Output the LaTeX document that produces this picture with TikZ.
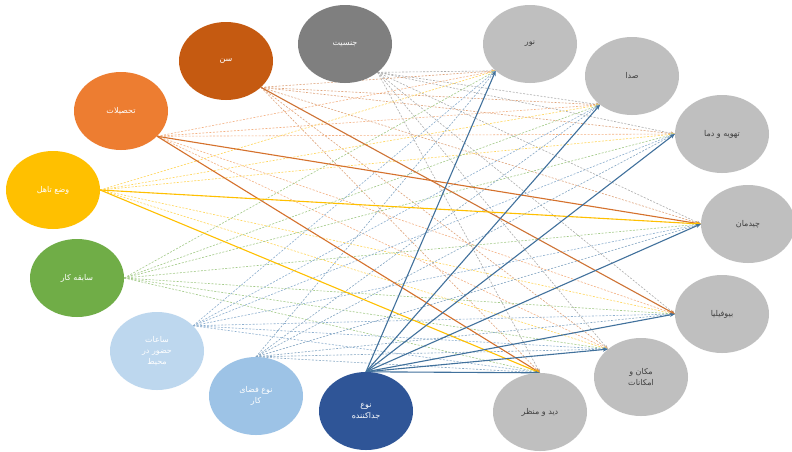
\documentclass[tikz,border=0pt]{standalone}
\usepackage{fontspec}
\newfontfamily\arabicfont[Script=Arabic]{DejaVu Sans}
\TeXXeTstate=1
\usetikzlibrary{shapes.geometric,arrows.meta,backgrounds}
\newcommand{\rtltext}[1]{\beginR #1\endR}
\definecolor{cGen}{HTML}{7F7F7F}
\definecolor{cAge}{HTML}{C55A11}
\definecolor{cEdu}{HTML}{ED7D31}
\definecolor{cMar}{HTML}{FFC000}
\definecolor{cExp}{HTML}{70AD47}
\definecolor{cHrs}{HTML}{BDD7EE}
\definecolor{cSpc}{HTML}{9DC3E6}
\definecolor{cPar}{HTML}{2F5597}
\definecolor{cOut}{HTML}{BFBFBF}
\definecolor{cLink}{HTML}{41719C}
\begin{document}
\begin{tikzpicture}[x=1pt,y=-1pt,
  bub/.style={ellipse, inner sep=0pt, minimum width=94pt, minimum height=78pt,
    font=\arabicfont\fontsize{8}{11}\selectfont, align=center},
  inb/.style={bub, fill=#1, text=white},
  outb/.style={bub, fill=cOut, text=black!75},
  dlink/.style={draw=#1, line width=0.6pt, dash pattern=on 2pt off 1.5pt,
    -{Stealth[length=4pt,width=3.5pt]}},
  slink/.style={draw=#1, line width=1.1pt, -{Stealth[length=5pt,width=4pt]}},
]
\useasboundingbox (0,0) rectangle (792,451);
% left (source) nodes
\node[inb=cGen] (gen) at (345,44) {\rtltext{جنسیت}};
\node[inb=cAge] (age) at (226,61) {\rtltext{سن}};
\node[inb=cEdu] (edu) at (121,111) {\rtltext{تحصیلات}};
\node[inb=cMar] (mar) at (53,190) {\rtltext{وضع تاهل}};
\node[inb=cExp] (exp) at (77,278) {\rtltext{سابقه کار}};
\node[inb=cHrs] (hrs) at (157,351) {\rtltext{ساعات}\\\rtltext{حضور در}\\\rtltext{محیط}};
\node[inb=cSpc] (spc) at (256,396) {\rtltext{نوع فضای}\\\rtltext{کار}};
\node[inb=cPar] (par) at (366,411) {\rtltext{نوع}\\\rtltext{جداکننده}};
% right (target) nodes
\node[outb] (nur) at (530,44) {\rtltext{نور}};
\node[outb] (sda) at (632,76) {\rtltext{صدا}};
\node[outb] (tah) at (722,134) {\rtltext{تهویه و دما}};
\node[outb] (chi) at (748,224) {\rtltext{چیدمان}};
\node[outb] (bio) at (722,314) {\rtltext{بیوفیلیا}};
\node[outb] (mak) at (641,377) {\rtltext{مکان و}\\\rtltext{امکانات}};
\node[outb] (did) at (540,412) {\rtltext{دید و منظر}};
\begin{scope}[on background layer]
\fill[white] (0,0) rectangle (792,451);
% dashed links
\foreach \t in {nur.-142,sda.-138,tah.180,chi.180,bio.180,mak.140,did.90}
  \draw[dlink=cGen!65] (gen.-41) -- (\t);
\foreach \t in {nur.-142,sda.-138,tah.180,chi.180,mak.140,did.90}
  \draw[dlink=cAge!55] (age.-37) -- (\t);
\foreach \t in {nur.-142,sda.-138,tah.180,bio.180,mak.140}
  \draw[dlink=cEdu!60] (edu.-35) -- (\t);
\foreach \t in {nur.-142,sda.-138,tah.180,bio.180,mak.140}
  \draw[dlink=cMar!65] (mar.0) -- (\t);
\foreach \t in {nur.-142,sda.-138,tah.180,chi.180,bio.180,mak.140,did.90}
  \draw[dlink=cExp!65] (exp.0) -- (\t);
\foreach \t in {nur.-142,sda.-138,tah.180,chi.180,bio.180,mak.140,did.90}
  \draw[dlink=cSpc!90!black] (hrs.35) -- (\t);
\foreach \t in {nur.-142,sda.-138,tah.180,chi.180,bio.180,mak.140,did.90}
  \draw[dlink=cSpc!85!black] (spc.90) -- (\t);
% solid links
\draw[slink=cAge!85] (age.-37) -- (bio.180);
\draw[slink=cEdu!90!black] (edu.-35) -- (chi.180);
\draw[slink=cEdu!90!black] (edu.-35) -- (did.90);
\draw[slink=cMar] (mar.0) -- (chi.180);
\draw[slink=cMar] (mar.0) -- (did.90);
\foreach \t in {nur.-142,sda.-138,tah.180,chi.180,bio.180,mak.140,did.90}
  \draw[slink=cLink] (par.90) -- (\t);
\end{scope}
\end{tikzpicture}
\end{document}
